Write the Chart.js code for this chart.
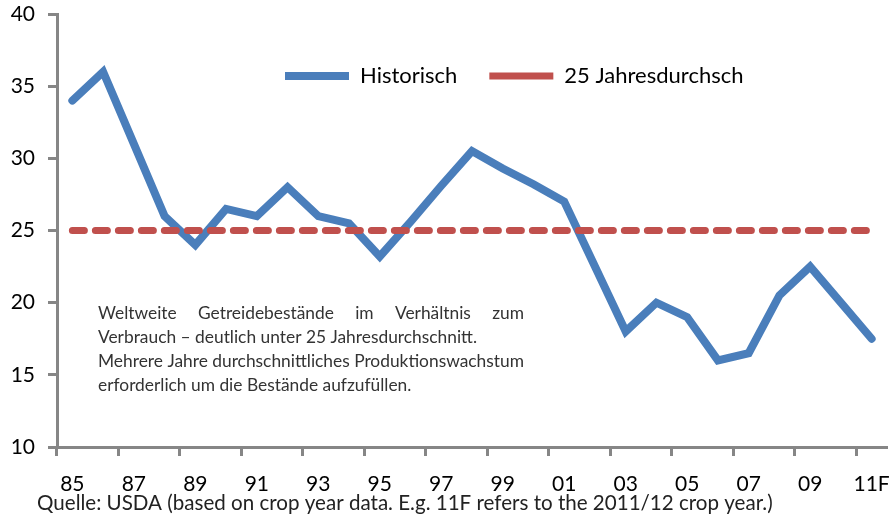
<!DOCTYPE html>
<html>
<head>
<meta charset="utf-8">
<script src="https://cdn.jsdelivr.net/npm/chart.js@4.4.0/dist/chart.umd.min.js"></script>
<style>
  html, body { margin: 0; padding: 0; background: #fff; }
  #wrap { width: 894px; height: 524px; }
</style>
</head>
<body>
<div id="wrap"><canvas id="stocksChart"></canvas></div>
<script>
// Erntejahre (nur jede zweite Beschriftung wird gezeigt)
const years = ["85", "86", "87", "88", "89", "90", "91", "92", "93", "94", "95", "96", "97", "98",
  "99", "00", "01", "02", "03", "04", "05", "06", "07", "08", "09", "10", "11F"];

// Bestand in % des Verbrauchs
const historisch = [34, 36, 31, 26, 24, 26.5, 26, 28, 26, 25.5, 23.2, 25.6, 28.1, 30.5,
  29.3, 28.2, 27, 22.5, 18, 20, 19, 16, 16.5, 20.5, 22.5, 20, 17.5];

const durchschnitt25 = [25, 25, 25, 25, 25, 25, 25, 25, 25, 25, 25, 25, 25, 25,
  25, 25, 25, 25, 25, 25, 25, 25, 25, 25, 25, 25, 25];

const yMin = 10;
const yMax = 40;
const yStep = 5;

const noteLines = [
  "Weltweite Getreidebestände im Verhältnis zum",
  "Verbrauch \u2013 deutlich unter 25 Jahresdurchschnitt.",
  "Mehrere Jahre durchschnittliches Produktionswachstum",
  "erforderlich um die Bestände aufzufüllen."
];
const sourceText = "Quelle: USDA (based on crop year data. E.g. 11F refers to the 2011/12 crop year.)";

const axisGray = "#868686";
const fontName = "Lato";

// Schriftgroesse so waehlen, dass der Text eine bestimmte Breite hat
function fitFont(ctx, text, width) {
  ctx.font = "100px " + fontName;
  const size = 100 * width / ctx.measureText(text).width;
  return size.toFixed(2) + "px " + fontName;
}

// Blocksatz fuer eine Zeile: Woerter gleichmaessig verteilen
function drawJustified(ctx, text, x0, x1, y) {
  const words = text.split(" ");
  const total = words.reduce((s, w) => s + ctx.measureText(w).width, 0);
  const gap = (x1 - x0 - total) / (words.length - 1);
  let x = x0;
  words.forEach(w => {
    ctx.fillText(w, x, y);
    x += ctx.measureText(w).width + gap;
  });
}

const notePlugin = {
  id: "noteText",
  afterDraw(chart) {
    const ctx = chart.ctx;
    ctx.save();
    ctx.textAlign = "left";
    ctx.textBaseline = "alphabetic";
    ctx.fillStyle = "#333";
    ctx.font = fitFont(ctx, noteLines[2], 426);
    noteLines.forEach((line, i) => {
      const y = 319 + i * 24;
      if (i === 0 || i === 2) drawJustified(ctx, line, 98, 524, y);
      else ctx.fillText(line, 98, y);
    });
    ctx.fillStyle = "#222";
    ctx.font = fitFont(ctx, sourceText, 736);
    ctx.fillText(sourceText, 37, 510);
    ctx.restore();
  }
};

// Legende liegt im Diagramm, oben mittig
const legendSpot = {
  id: "legendSpot",
  afterUpdate(chart) {
    const lg = chart.legend;
    const pad = lg.options.labels.padding;
    lg.left = 285 - pad;
    lg.top = 65 - pad;
    lg.right = chart.width;
    lg.bottom = lg.top + 80;
  }
};

new Chart(document.getElementById("stocksChart"), {
  type: "line",
  data: {
    labels: years,
    datasets: [
      {
        label: "Historisch",
        data: historisch,
        borderColor: "#4a7ebb",
        backgroundColor: "#4a7ebb",
        borderWidth: 8,
        borderCapStyle: "round",
        borderJoinStyle: "miter",
        pointRadius: 0,
        tension: 0,
        order: 2
      },
      {
        label: "25 Jahresdurchsch",
        data: durchschnitt25,
        borderColor: "#c0504d",
        backgroundColor: "#c0504d",
        borderWidth: 7,
        borderDash: [12, 11],
        borderCapStyle: "round",
        pointRadius: 0,
        tension: 0,
        order: 1
      }
    ]
  },
  options: {
    responsive: true,
    maintainAspectRatio: false,
    animation: false,
    layout: { padding: { top: 13, right: 7, bottom: 0, left: 0 } },
    plugins: {
      legend: {
        position: "top",
        align: "start",
        maxHeight: 1,
        labels: {
          usePointStyle: true,
          pointStyle: "line",
          pointStyleWidth: 64,
          padding: 32,
          color: "#000",
          font: { family: fontName, size: 22 },
          sort: (a, b) => a.datasetIndex - b.datasetIndex
        }
      },
      tooltip: { enabled: false }
    },
    scales: {
      x: {
        offset: true,
        afterFit: scale => {
          scale.height = 77;
          scale.paddingLeft = 0;
          scale.paddingRight = 0;
        },
        border: { color: axisGray, width: 3 },
        grid: {
          offset: true,
          drawOnChartArea: false,
          tickLength: 9,
          tickWidth: 3,
          tickColor: ctx => (ctx.index % 2 === 0 ? axisGray : "rgba(0,0,0,0)")
        },
        ticks: {
          autoSkip: false,
          maxRotation: 0,
          padding: 16,
          color: "#000",
          font: { family: fontName, size: 21 },
          callback: (val, i) => (i % 2 === 0 ? years[i] : "")
        }
      },
      y: {
        min: yMin,
        max: yMax,
        afterFit: scale => {
          scale.width = 57;
          scale.paddingTop = 0;
        },
        border: { color: axisGray, width: 3 },
        grid: {
          drawOnChartArea: false,
          tickLength: 9,
          tickWidth: 3,
          tickColor: axisGray
        },
        ticks: {
          stepSize: yStep,
          padding: 13,
          color: "#000",
          font: { family: fontName, size: 21 }
        }
      }
    }
  },
  plugins: [notePlugin, legendSpot]
});
</script>
</body>
</html>
